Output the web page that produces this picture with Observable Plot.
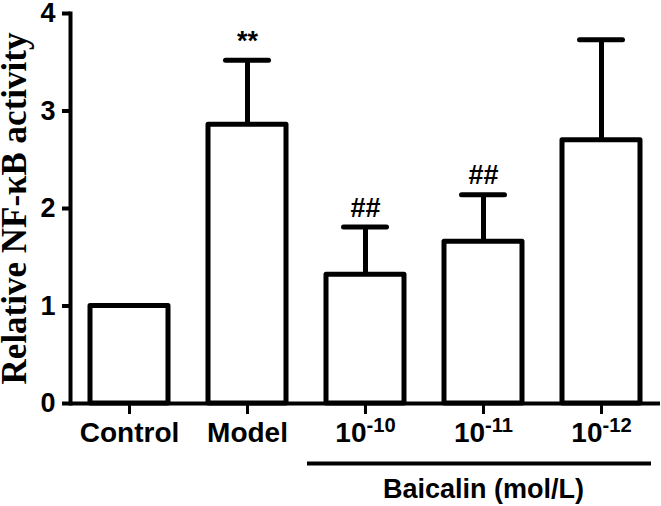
<!DOCTYPE html>
<html><head><meta charset="utf-8">
<script src="https://cdn.jsdelivr.net/npm/d3@7"></script>
<script src="https://cdn.jsdelivr.net/npm/@observablehq/plot@0.6"></script>
<style>body{margin:0;background:#fff}</style>
</head><body><div id="chart"></div>
<script>
const categories = ["Control", "Model", "10^-10", "10^-11", "10^-12"];
const means = [1.0, 2.86, 1.32, 1.66, 2.70];
const errors = [0, 0.66, 0.49, 0.48, 1.03];
const significance = ["", "**", "##", "##", ""];
const yTicks = [0, 1, 2, 3, 4];
const yTitle = "Relative NF-κB activity";
const groupTitle = "Baicalin (mol/L)";
const groupStart = "10^-10";
const groupEnd = "10^-12";
const groupCenter = "10^-11";

const data = categories.map((c, i) => ({cat: c, mean: means[i], err: errors[i], top: means[i] + errors[i], sig: significance[i]}));
const withErr = data.filter(d => d.err > 0);

const chart = Plot.plot({
  width: 661, height: 506,
  marginLeft: 70, marginRight: 1, marginTop: 13, marginBottom: 103,
  style: {fontFamily: "'Liberation Sans', Arial, sans-serif", fontWeight: "bold", background: "white", color: "black", overflow: "visible"},
  x: {domain: categories, paddingInner: 0.34, paddingOuter: 0.165},
  y: {domain: [0, 4]},
  marks: [
    Plot.ruleX(withErr, {x: "cat", y1: "mean", y2: "top", strokeWidth: 5}),
    Plot.tickY(withErr, {x: "cat", y: "top", strokeWidth: 5, strokeLinecap: "round", inset: 17.5}),
    Plot.barY(data, {x: "cat", y: "mean", fill: "white", stroke: "black", strokeWidth: 5, strokeLinejoin: "round"}),
    Plot.text(data.filter(d => d.sig), {x: "cat", y: "top", text: "sig", dy: -19, fontSize: 27, fontFamily: "'Liberation Sans', Arial, sans-serif"}),
    Plot.ruleY([0], {strokeWidth: 4}),
    Plot.frame({anchor: "left", strokeWidth: 4}),
    Plot.axisY({ticks: yTicks, tickFormat: "d", tickSize: 8, tickPadding: 7, strokeWidth: 4, fontSize: 27, label: null}),
    Plot.axisX({tickSize: 11, tickPadding: 8, strokeWidth: 3, fontSize: 28, label: null}),
    Plot.ruleY([{a: groupStart, b: groupEnd}], {x1: "a", x2: "b", y: () => 0, dy: 60, strokeWidth: 4, insetLeft: -19, insetRight: -11}),
    Plot.text([groupTitle], {x: [groupCenter], y: [0], text: d => d, dy: 86, fontSize: 27}),
    Plot.text([yTitle], {frameAnchor: "left", textAnchor: "middle", lineAnchor: "middle", rotate: -90, dx: -56, dy: 0, text: d => d, fontFamily: "'Liberation Serif', 'Times New Roman', serif", fontSize: 35})
  ]
});

// superscript exponents in tick labels
chart.querySelectorAll("text").forEach(t => {
  const m = /^10\^(-?\d+)$/.exec(t.textContent);
  if (m) {
    const ns = "http://www.w3.org/2000/svg";
    t.textContent = "";
    const base = document.createElementNS(ns, "tspan");
    base.textContent = "10";
    const sup = document.createElementNS(ns, "tspan");
    sup.setAttribute("dy", "-0.5em");
    sup.setAttribute("font-size", "0.72em");
    sup.textContent = m[1];
    t.appendChild(base);
    t.appendChild(sup);
  }
});
document.getElementById("chart").appendChild(chart);
</script>
</body></html>
